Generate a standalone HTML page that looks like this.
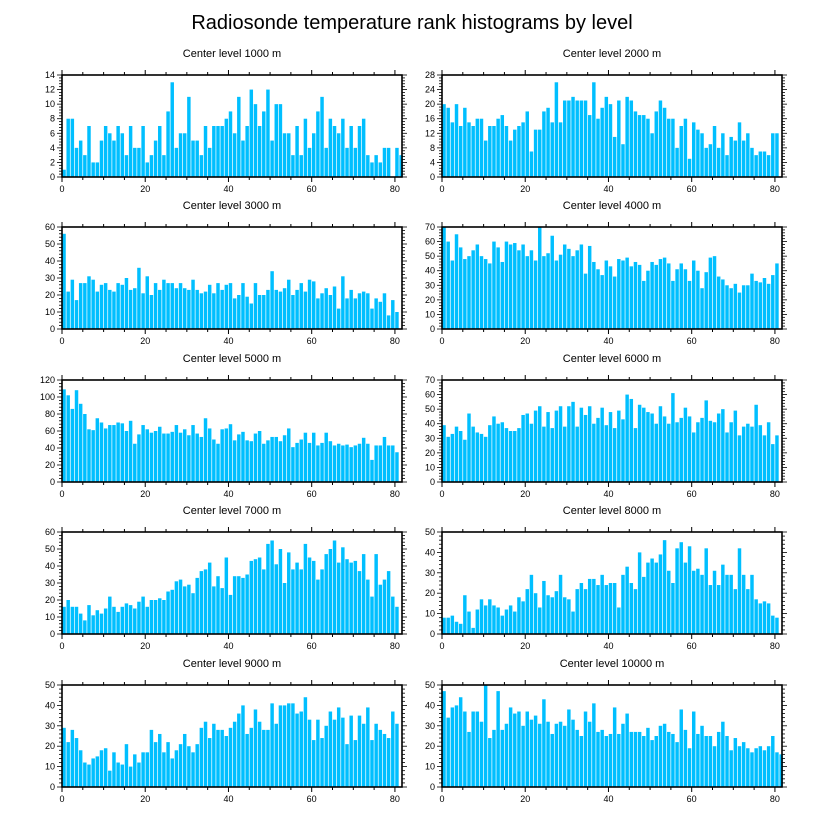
<!DOCTYPE html>
<html><head><meta charset="utf-8"><style>
body{margin:0;background:#fff}
svg{display:block;font-family:"Liberation Sans",sans-serif}
</style></head><body>
<svg id="chart" width="822" height="824">
<text x="412" y="29" text-anchor="middle" font-size="20">Radiosonde temperature rank histograms by level</text>
</svg>
<script>
const levels=["1000","2000","3000","4000","5000","6000","7000","8000","9000","10000"];
const yMaxes=[14,28,60,70,120,70,60,50,50,50];
const ySteps=[2,4,10,10,20,10,10,10,10,10];
const xTicks=[0,20,40,60,80];
const d1000=[1,8,8,4,5,3,7,2,2,5,7,6,5,7,6,3,7,4,4,7,2,3,5,7,3,9,13,4,6,6,11,5,5,3,7,4,7,7,7,8,9,6,11,5,7,12,10,7,9,12,5,10,10,6,6,3,7,3,8,4,6,9,11,4,8,7,6,8,4,7,4,7,8,3,2,3,2,4,4,0,4,3];
const d2000=[20,19,15,20,14,19,15,14,16,16,10,14,14,16,17,14,10,13,14,15,18,7,13,13,18,19,15,26,15,21,21,22,21,21,21,17,26,16,19,22,20,11,21,9,22,21,18,17,17,16,12,18,21,19,16,16,8,14,16,5,15,13,12,8,9,14,8,12,6,11,10,15,10,12,8,6,7,7,6,12,12];
const d3000=[56,22,29,17,27,27,31,29,22,26,27,23,22,27,26,30,23,24,36,21,31,20,27,23,29,27,27,24,27,24,23,29,23,21,22,26,21,27,23,26,27,18,20,27,19,15,27,20,20,23,34,23,22,24,29,20,23,27,22,29,28,18,21,24,20,25,12,31,18,23,18,21,22,21,12,18,16,21,8,17,10];
const d4000=[70,60,47,65,56,48,50,54,58,50,48,45,60,56,46,60,58,59,54,58,50,54,47,70,50,52,64,47,51,58,55,50,54,58,38,57,46,41,37,47,43,36,48,47,49,43,46,44,33,40,46,44,48,49,45,33,41,45,41,33,47,40,28,39,49,50,36,34,30,28,31,25,30,30,38,33,32,35,31,37,45];
const d5000=[109,102,86,108,92,80,62,61,75,70,63,67,67,70,69,60,72,45,56,67,62,58,60,65,57,57,59,67,58,62,55,67,57,53,75,63,50,45,62,63,68,49,56,59,49,48,57,60,45,49,53,53,48,55,63,41,46,50,58,46,58,43,46,58,48,43,45,43,44,41,43,45,52,45,26,43,43,53,43,43,35];
const d6000=[39,31,33,38,35,29,47,38,34,33,31,39,45,40,41,37,35,35,37,46,47,40,49,52,38,48,37,49,52,38,52,55,38,51,46,52,40,44,51,39,48,37,49,43,60,57,37,53,51,48,47,40,52,45,40,61,41,44,51,45,34,41,44,56,42,41,47,50,34,41,49,32,38,40,38,53,39,32,41,26,32];
const d7000=[16,20,16,16,12,8,17,11,14,12,15,22,16,13,16,18,17,15,19,22,16,20,20,21,20,25,26,31,32,28,29,24,33,37,38,42,28,34,27,45,23,34,34,33,35,43,44,45,38,53,55,41,50,30,48,38,42,38,53,45,43,32,38,47,50,55,42,51,44,42,43,37,47,32,22,47,29,32,37,22,16];
const d8000=[8,8,9,6,5,19,11,3,12,17,14,17,14,13,9,12,14,11,18,16,22,29,20,13,26,19,18,21,29,18,17,11,22,25,22,27,27,24,29,24,25,25,13,29,33,25,22,40,28,35,37,35,39,46,31,25,42,45,35,43,31,32,29,42,24,31,24,34,29,29,22,42,29,22,29,17,15,16,15,9,8];
const d9000=[29,22,28,24,18,12,11,14,15,18,19,8,17,12,11,21,10,16,12,17,17,28,22,26,17,22,14,18,21,26,20,17,21,29,32,24,31,28,28,25,29,32,36,40,26,29,38,32,28,28,41,31,40,40,41,41,36,37,44,33,23,33,24,30,37,33,39,34,21,35,23,35,31,39,23,31,28,26,24,37,31];
const d10000=[47,34,39,40,44,37,27,37,37,32,50,24,28,47,28,31,39,36,37,30,37,33,35,31,43,32,26,31,32,30,38,33,28,25,37,32,41,27,28,25,26,39,26,31,36,27,27,27,25,29,23,25,30,31,27,26,22,38,28,19,37,26,30,25,25,20,27,32,25,18,24,20,22,19,17,19,20,18,20,25,17,16];
const series=[d1000,d2000,d3000,d4000,d5000,d6000,d7000,d8000,d9000,d10000];

const NS="http://www.w3.org/2000/svg";
const svg=document.getElementById('chart');
function mk(tag,attrs,parent){const e=document.createElementNS(NS,tag);for(const k in attrs)e.setAttribute(k,attrs[k]);(parent||svg).appendChild(e);return e;}
const rowTops=[75,227,380,532,685];
const colLefts=[62,442];
const PW=340,PH=102,XMAX=81.7;
series.forEach((data,p)=>{
  const x0=colLefts[p%2],y0=rowTops[Math.floor(p/2)];
  const ymax=yMaxes[p],step=ySteps[p];
  const xs=v=>x0+v/XMAX*PW;
  const ys=v=>y0+PH-v/ymax*PH;
  const g=mk('g',{});
  
  
  const t=mk('text',{x:x0+PW/2,y:y0-18,'text-anchor':'middle','font-size':11},g);
  t.textContent='Center level '+levels[p]+' m';
  
  
  data.forEach((v,i)=>{
    const r=mk('rect',{x:xs(i)+0.3,y:ys(v),width:Math.max(0,xs(i+1)-xs(i)-0.7),height:ys(0)-ys(v),fill:'#00bfff'},g);
    
    
  });
  // x ticks
  for(let v=0;v<=80;v+=5){
    const major=v%20===0,len=major?5:3,x=xs(v);
    mk('line',{x1:x,x2:x,y1:y0+PH,y2:y0+PH+len,stroke:'#000','stroke-width':1},g);
    mk('line',{x1:x,x2:x,y1:y0,y2:y0-len,stroke:'#000','stroke-width':1},g);
  }
  xTicks.forEach(v=>{
    const l=mk('text',{x:xs(v),y:y0+PH+15,'text-anchor':'middle','font-size':9},g);
    l.textContent=v;
    
    
  });
  // y ticks
  const minor=step/5;
  for(let v=0;v<=ymax+1e-9;v+=minor){
    const isMajor=Math.abs(v/step-Math.round(v/step))<1e-6,len=isMajor?5:3,y=ys(v);
    mk('line',{x1:x0,x2:x0-len,y1:y,y2:y,stroke:'#000','stroke-width':0.8},g);
    mk('line',{x1:x0+PW,x2:x0+PW+len,y1:y,y2:y,stroke:'#000','stroke-width':0.8},g);
  }
  for(let v=0;v<=ymax;v+=step){
    const l=mk('text',{x:x0-7,y:ys(v)+3,'text-anchor':'end','font-size':9},g);
    l.textContent=v;
    
    
  }
  mk('rect',{x:x0,y:y0,width:PW,height:PH,fill:'none',stroke:'#000','stroke-width':1.6},g);
});
</script>
</body></html>
